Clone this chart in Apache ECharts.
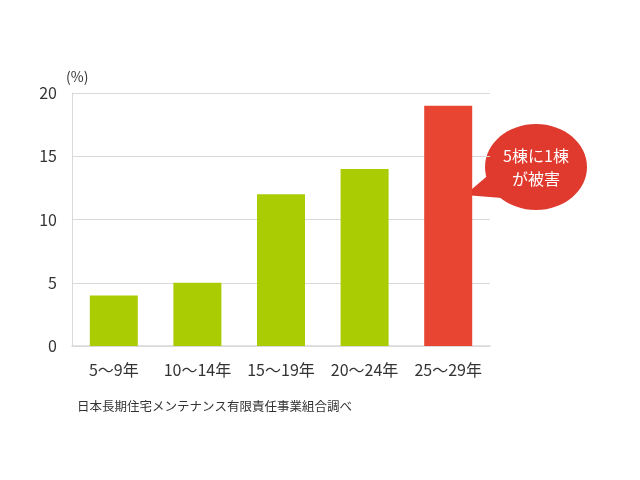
<!DOCTYPE html>
<html><head><meta charset="utf-8">
<script src="https://cdn.jsdelivr.net/npm/echarts@6/dist/echarts.min.js"></script>
<style>html,body{margin:0;padding:0;background:#fff}#c{width:640px;height:480px}</style>
</head><body><div id="c"></div>
<script>
const categories = ['5〜9年','10〜14年','15〜19年','20〜24年','25〜29年'];
const values = [4, 5, 12, 14, 19];
const barColors = ['#aacc03','#aacc03','#aacc03','#aacc03','#e84532'];
const yTicks = [0, 5, 10, 15, 20];
const FONT = '"Noto Sans CJK JP", "Noto Sans", sans-serif';
const chart = echarts.init(document.getElementById('c'));
chart.setOption({
  animation: false,
  textStyle: { fontFamily: FONT },
  grid: { left: 72, right: 150, top: 93, bottom: 134, containLabel: false },
  xAxis: {
    type: 'category', data: categories,
    axisLine: { show: true, lineStyle: { color: '#d9d9d9', width: 1.5 } },
    axisTick: { show: false },
    axisLabel: { color: '#333', fontSize: 16, margin: 16, interval: 0, hideOverlap: false, fontFamily: FONT }
  },
  yAxis: {
    type: 'value', min: yTicks[0], max: yTicks[yTicks.length-1], interval: 5,
    name: '(%)', nameGap: 9, nameTextStyle: { color: '#333', fontSize: 14, align: 'left', padding: [0,0,0,-6] },
    axisLine: { show: true, lineStyle: { color: '#d9d9d9' } },
    axisTick: { show: false },
    splitLine: { lineStyle: { color: '#d9d9d9' } },
    axisLabel: { color: '#333', fontSize: 16, margin: 15, fontFamily: FONT }
  },
  series: [{
    type: 'bar', barWidth: 48,
    data: values.map((v, i) => ({ value: v, itemStyle: { color: barColors[i] } }))
  }],
  graphic: [
    { type: 'polygon', shape: { points: [[465,195],[492,172],[502,198]] }, style: { fill: '#e03a2e' } },
    { type: 'ellipse', shape: { cx: 536, cy: 167, rx: 51, ry: 43 }, style: { fill: '#e03a2e' } },
    { type: 'text', style: { text: '5棟に1棟\nが被害', fill: '#fff', fontSize: 16, fontFamily: FONT, align: 'center', verticalAlign: 'middle', lineHeight: 23, x: 536, y: 167 } },
    { type: 'text', style: { text: '日本長期住宅メンテナンス有限責任事業組合調べ', fill: '#333', fontSize: 12.5, fontFamily: FONT, x: 77, y: 400 } }
  ]
});
</script></body></html>
